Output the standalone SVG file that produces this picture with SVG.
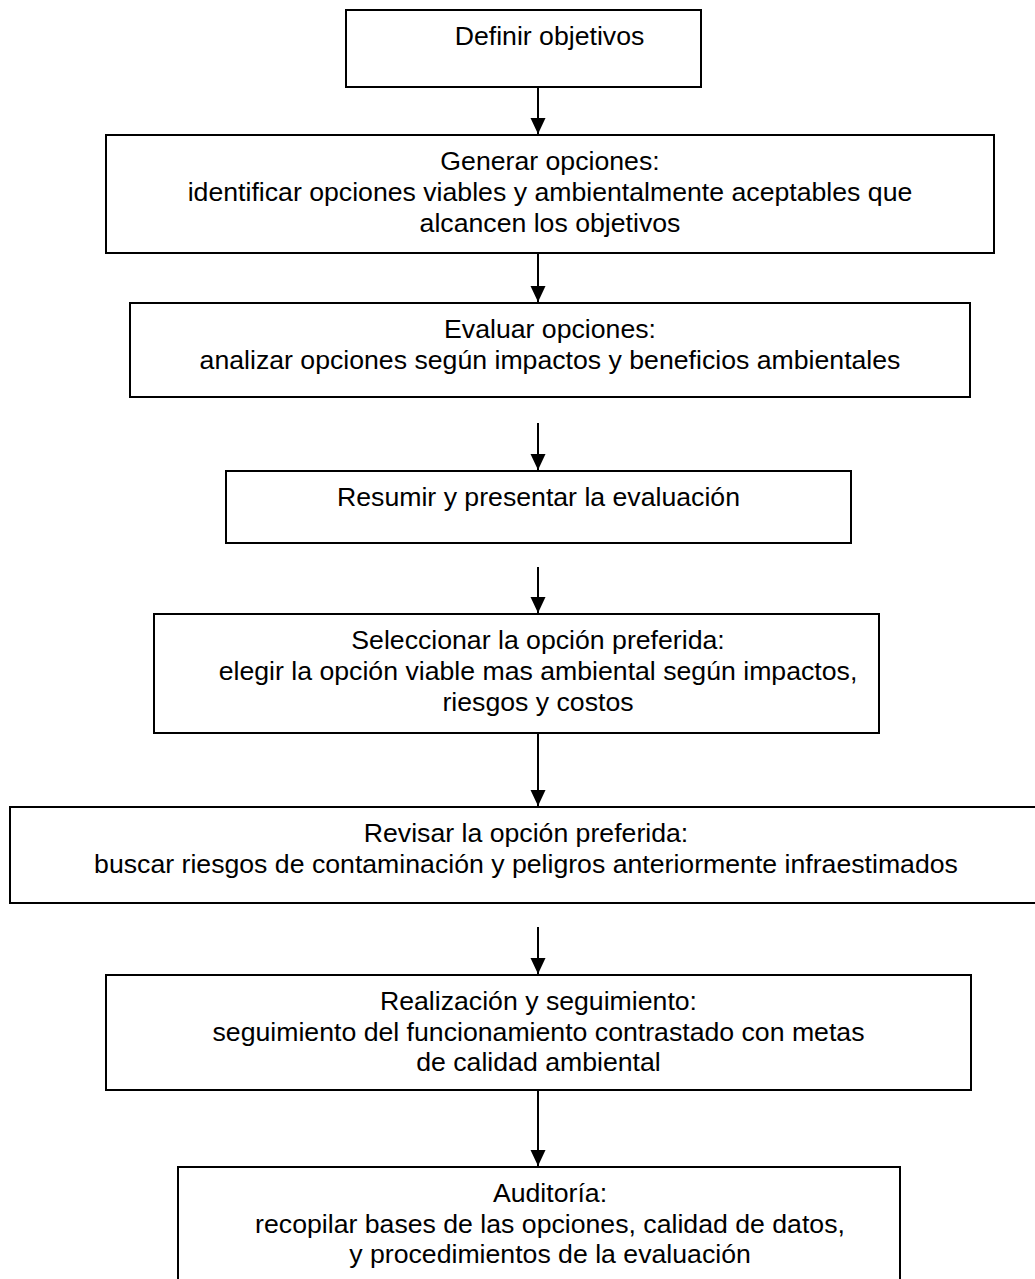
<svg xmlns="http://www.w3.org/2000/svg" width="1035" height="1279" viewBox="0 0 1035 1279">
  <defs>
    <marker id="arrow" markerUnits="userSpaceOnUse" markerWidth="16" markerHeight="16" viewBox="0 0 16 16" refX="16" refY="8" orient="auto">
      <path d="M0,0.5 L16,8 L0,15.5 Z" fill="#000"/>
    </marker>
    <style>
      .box { fill: #fff; stroke: #000; stroke-width: 2; }
      .lbl { font-family: "Liberation Sans", Arial, sans-serif; font-size: 26.67px; fill: #000; text-anchor: middle; }
      .conn line { stroke: #000; stroke-width: 2; marker-end: url(#arrow); }
    </style>
  </defs>
  <rect width="1035" height="1279" fill="#fff"/>

  <!-- connectors -->
  <g id="connectors" class="conn">
    <line x1="538" y1="87" x2="538" y2="134"/>
    <line x1="538" y1="253" x2="538" y2="302"/>
    <line x1="538" y1="423" x2="538" y2="470"/>
    <line x1="538" y1="567" x2="538" y2="613"/>
    <line x1="538" y1="733" x2="538" y2="806"/>
    <line x1="538" y1="927" x2="538" y2="974"/>
    <line x1="538" y1="1090" x2="538" y2="1166"/>
  </g>

  <g id="n1">
    <rect class="box" x="346" y="10" width="355" height="77"/>
    <text class="lbl" x="549.5" y="45">Definir objetivos</text>
  </g>
  <g id="n2">
    <rect class="box" x="106" y="135" width="888" height="118"/>
    <text class="lbl" x="550" y="170">Generar opciones:</text>
    <text class="lbl" x="550" y="201">identificar opciones viables y ambientalmente aceptables que</text>
    <text class="lbl" x="550" y="232">alcancen los objetivos</text>
  </g>
  <g id="n3">
    <rect class="box" x="130" y="303" width="840" height="94"/>
    <text class="lbl" x="550" y="338">Evaluar opciones:</text>
    <text class="lbl" x="550" y="369">analizar opciones según impactos y beneficios ambientales</text>
  </g>
  <g id="n4">
    <rect class="box" x="226" y="471" width="625" height="72"/>
    <text class="lbl" x="538.5" y="506">Resumir y presentar la evaluación</text>
  </g>
  <g id="n5">
    <rect class="box" x="154" y="614" width="725" height="119"/>
    <text class="lbl" x="538" y="649">Seleccionar la opción preferida:</text>
    <text class="lbl" x="538" y="680">elegir la opción viable mas ambiental según impactos,</text>
    <text class="lbl" x="538" y="711">riesgos y costos</text>
  </g>
  <g id="n6">
    <rect class="box" x="10" y="807" width="1032" height="96"/>
    <text class="lbl" x="526" y="842">Revisar la opción preferida:</text>
    <text class="lbl" x="526" y="873">buscar riesgos de contaminación y peligros anteriormente infraestimados</text>
  </g>
  <g id="n7">
    <rect class="box" x="106" y="975" width="865" height="115"/>
    <text class="lbl" x="538.5" y="1010">Realización y seguimiento:</text>
    <text class="lbl" x="538.5" y="1041">seguimiento del funcionamiento contrastado con metas</text>
    <text class="lbl" x="538.5" y="1071">de calidad ambiental</text>
  </g>
  <g id="n8">
    <rect class="box" x="178" y="1167" width="722" height="130"/>
    <text class="lbl" x="550" y="1202">Auditoría:</text>
    <text class="lbl" x="550" y="1233">recopilar bases de las opciones, calidad de datos,</text>
    <text class="lbl" x="550" y="1263">y procedimientos de la evaluación</text>
  </g>
</svg>
